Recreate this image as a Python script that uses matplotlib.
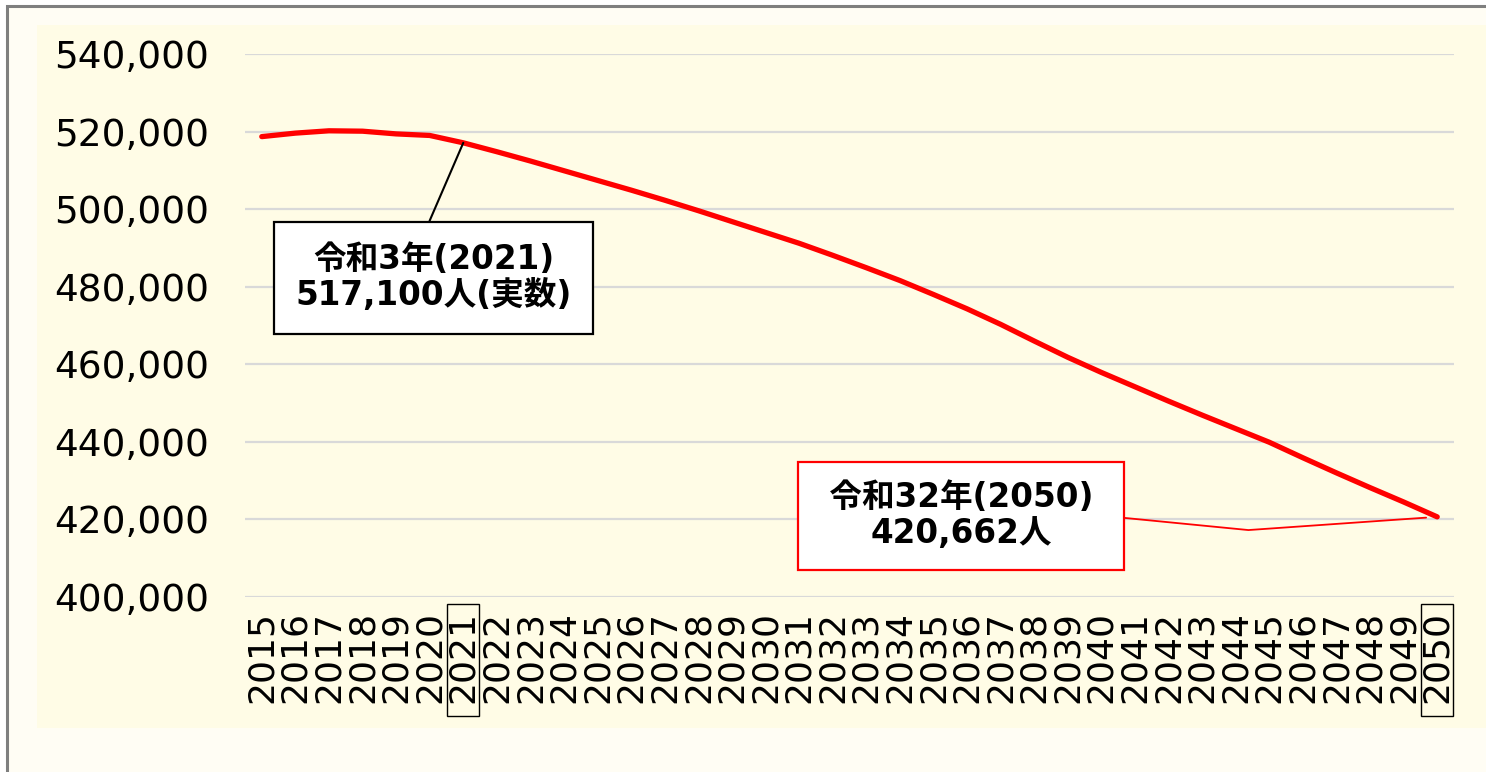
import matplotlib.pyplot as plt
from matplotlib.patches import Rectangle

plt.rcParams['font.family'] = ['DejaVu Sans', 'Noto Sans CJK JP']

years = [str(y) for y in range(2015, 2051)]
population = [
    518700, 519600, 520200, 520100, 519400, 519000, 517100, 514800, 512400, 509900,
    507400, 504900, 502300, 499600, 496800, 494000, 491200, 488100, 484900, 481600,
    478000, 474300, 470300, 466000, 461800, 457900, 454200, 450500, 446900, 443400,
    439900, 435900, 432000, 428200, 424500, 420662,
]
yticks = [400000, 420000, 440000, 460000, 480000, 500000, 520000, 540000]
boxed_years = ['2021', '2050']
note_2021 = '令和3年(2021)\n517,100人(実数)'
note_2050 = ' 令和32年(2050) \n420,662人'

W, H = 1486, 772
fig = plt.figure(figsize=(W / 100, H / 100), dpi=100)
fig.patch.set_facecolor('white')

# outer frame and cream plot panel
fig.add_artist(Rectangle((7 / W, -0.05), 1.1, (H - 6) / H + 0.05, transform=fig.transFigure,
                         fc='#FFFDF4', ec='#7F7F7F', lw=2.2, zorder=0))
fig.add_artist(Rectangle((37 / W, (H - 728) / H), (W - 37) / W, (728 - 25) / H,
                         transform=fig.transFigure, fc='#FFFCE6', ec='none', zorder=0))

ax = fig.add_axes([245 / W, (H - 597) / H, (1454 - 245) / W, (597 - 54) / H])
ax.patch.set_alpha(0)

x = list(range(len(years)))
ax.plot(x, population, color='#FF0000', lw=3.8, solid_capstyle='round', zorder=3)

ax.set_xlim(-0.5, len(years) - 0.5)
ax.set_ylim(yticks[0], yticks[-1])
ax.set_yticks(yticks)
ax.set_yticklabels([f'{v:,}' for v in yticks], fontsize=27)
ax.set_xticks(x)
ax.set_xticklabels(years, rotation=90, fontsize=26, va='top', ha='center')
ax.tick_params(axis='y', length=0, pad=26)
ax.tick_params(axis='x', length=0, pad=10)
ax.grid(axis='y', color='#D9D9D9', lw=1.6)
ax.set_axisbelow(True)
for s in ax.spines.values():
    s.set_visible(False)

# boxes round the highlighted year labels
for yr in boxed_years:
    i = years.index(yr)
    ax.add_patch(Rectangle((i - 0.476, -0.219), 0.953, 0.206, transform=ax.get_xaxis_transform(),
                           fill=False, ec='black', lw=1.0, clip_on=False))

note_font = dict(ha='center', va='center', ma='center', fontsize=23.5, fontweight='bold',
                 family=['DejaVu Sans', 'Noto Sans CJK JP'], linespacing=1.12)

i21 = years.index('2021')
ax.annotate(note_2021, xy=(i21, population[i21]), xytext=(5.12, 482300), **note_font,
            bbox=dict(boxstyle='square,pad=0.66', fc='white', ec='black', lw=1.6),
            arrowprops=dict(arrowstyle='-', color='black', lw=1.5, relpos=(0.45, 1.0),
                            shrinkA=0, shrinkB=0),
            zorder=5)

i50 = years.index('2050')
ax.annotate(note_2050, xy=(i50, population[i50]), xytext=(20.82, 420900), **note_font,
            bbox=dict(boxstyle='square,pad=0.6', fc='white', ec='#FF0000', lw=1.6),
            arrowprops=dict(arrowstyle='-', color='#FF0000', lw=1.3, relpos=(1.0, 0.5),
                            shrinkA=0, shrinkB=8,
                            connectionstyle='angle,angleA=-5.6,angleB=184,rad=0'),
            zorder=5)

fig.savefig('out.png', dpi=100)
